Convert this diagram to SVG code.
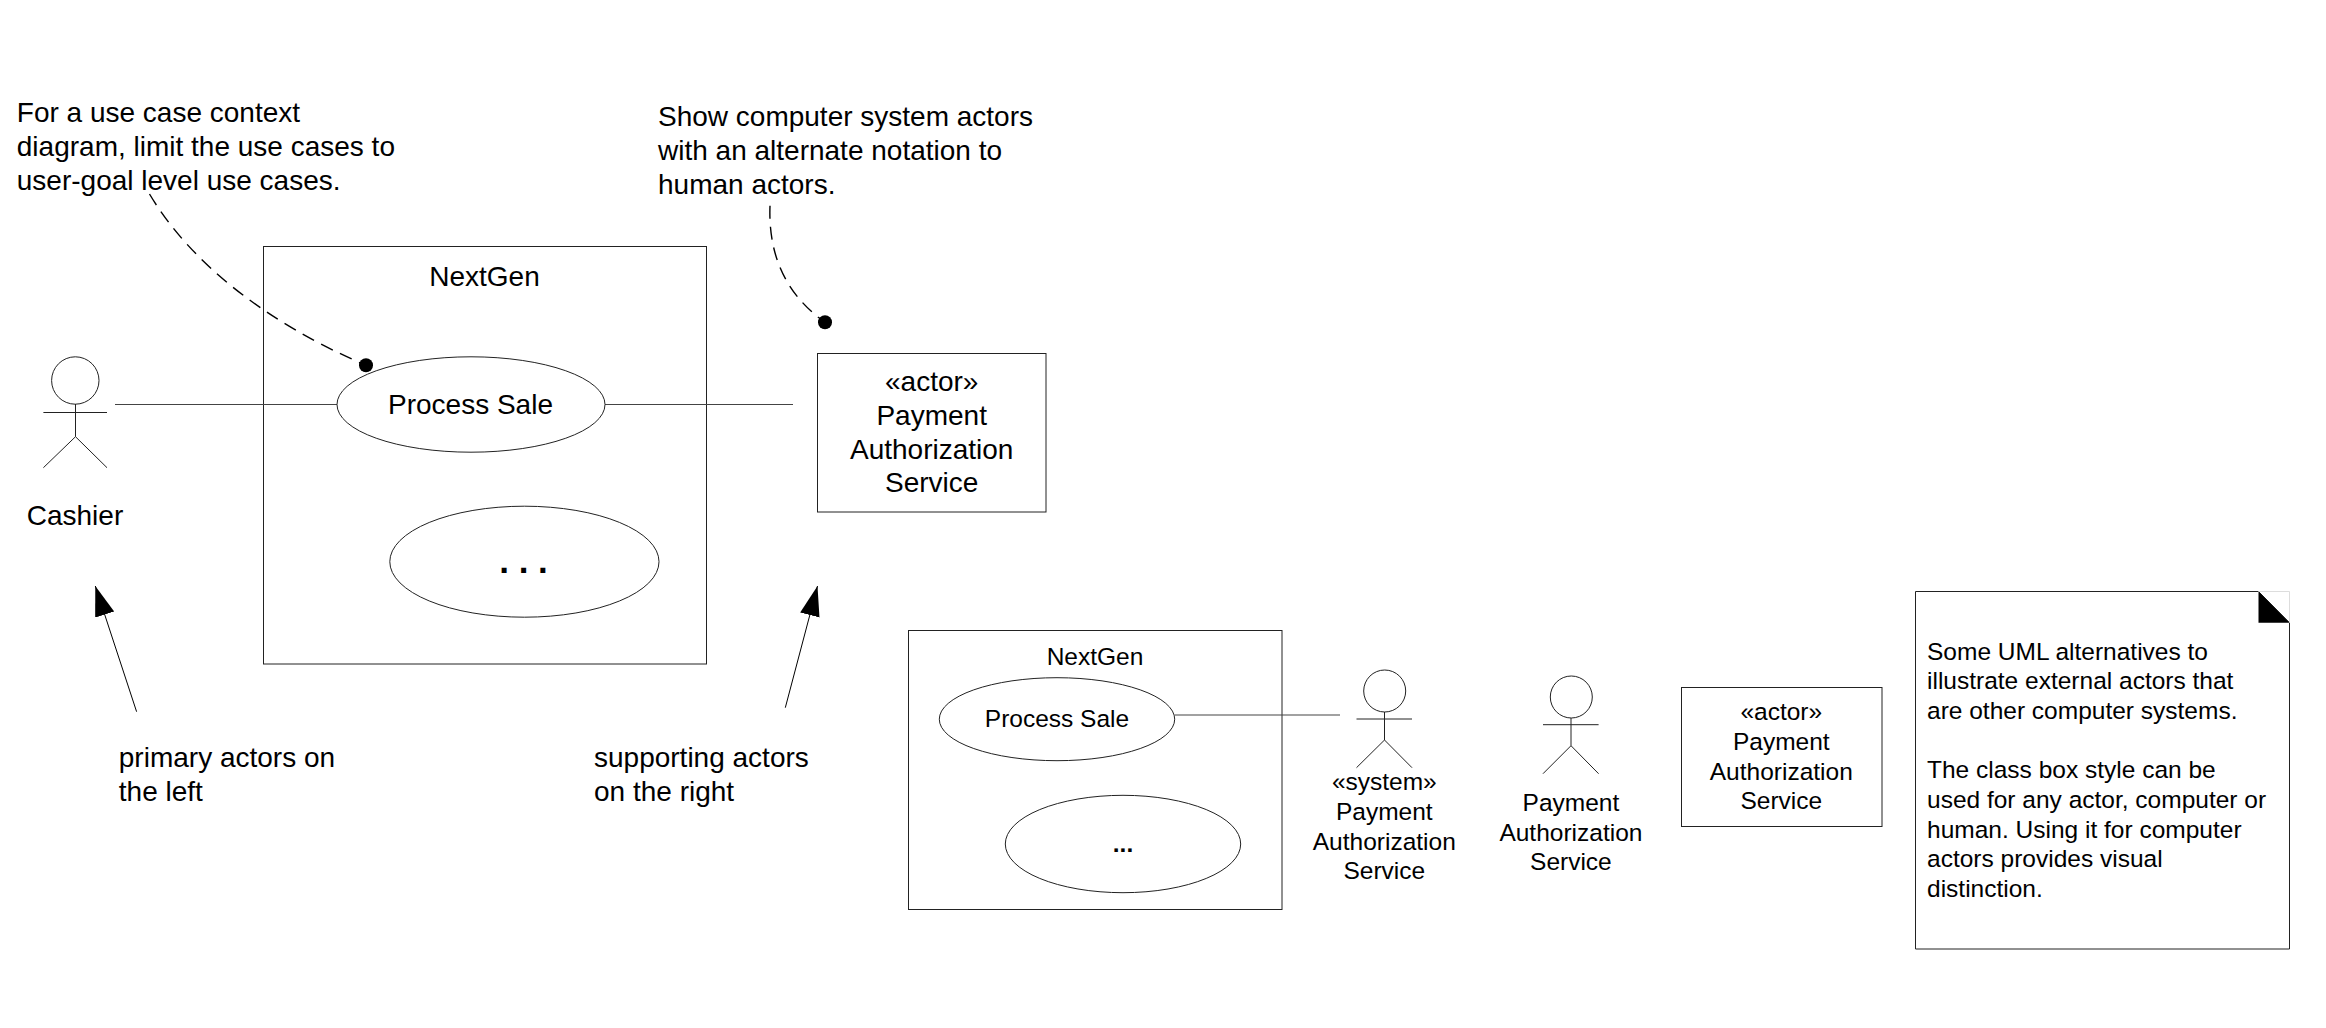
<svg xmlns="http://www.w3.org/2000/svg" width="2326" height="1028" viewBox="0 0 2326 1028">
<style>
text{font-family:"Liberation Sans",Arial,sans-serif;fill:#000;font-size:28px}
.s{font-size:24.5px}
.m{text-anchor:middle}
.b{font-weight:bold}
.o{fill:#fff;stroke:#222;stroke-width:1}
.n{fill:none;stroke:#222;stroke-width:1}
.c{fill:none;stroke:#444;stroke-width:1.2}
.d{fill:none;stroke:#000;stroke-width:1.4;stroke-dasharray:13 8}
.a{fill:none;stroke:#000;stroke-width:1}
</style>
<defs>
<marker id="arrow" markerUnits="userSpaceOnUse" markerWidth="32" markerHeight="22" refX="30" refY="10" orient="auto"><path d="M0 0L30 10L0 20Z" fill="#000"/></marker>
<marker id="dot" markerUnits="userSpaceOnUse" markerWidth="16" markerHeight="16" refX="8" refY="8"><circle cx="8" cy="8" r="7" fill="#000"/></marker>
</defs>
<rect width="2326" height="1028" fill="#fff"/>
<g id="system-main">
<rect class="o" x="263.5" y="246.5" width="443" height="417.5"/>
<text class="m" x="484.5" y="286">NextGen</text>
</g>
<g id="system-alt">
<rect class="o" x="908.5" y="630.5" width="373.5" height="279"/>
<text class="s m" x="1095" y="665">NextGen</text>
</g>
<g id="connectors">
<path class="c" d="M115 404.5H337"/>
<path class="c" d="M605 404.5H793"/>
<path class="c" d="M1174.7 715H1340"/>
<path class="d" marker-end="url(#dot)" d="M149.5 194C190 262 265 322 366 365.3"/>
<path class="d" marker-end="url(#dot)" d="M770 205.7C768 258 788 296 825 322.3"/>
<path class="a" marker-end="url(#arrow)" d="M136.6 711.7L95.3 586"/>
<path class="a" marker-end="url(#arrow)" d="M785.3 707.7L817.5 586"/>
</g>
<g id="actor-cashier">
<ellipse class="n" cx="75.3" cy="380.5" rx="23.7" ry="23.7"/>
<path class="n" d="M43.4 412.5H107M75.5 404V436.7L43.4 467.7M75.5 436.7L107 467.7"/>
<text class="m" x="75" y="525">Cashier</text>
</g>
<g id="usecase-process-sale">
<ellipse class="o" cx="471" cy="404.5" rx="134" ry="47.7"/>
<text class="m" x="470.5" y="414">Process Sale</text>
</g>
<g id="usecase-other">
<ellipse class="o" cx="524.4" cy="561.7" rx="134.6" ry="55.5"/>
<text class="m b" x="523.5" y="573" style="font-size:35px">. . .</text>
</g>
<g id="actor-box-main">
<rect class="o" x="817.5" y="353.5" width="228.5" height="158.5"/>
<text class="m" x="931.7" y="391">«actor»</text>
<text class="m" x="931.7" y="425">Payment</text>
<text class="m" x="931.7" y="459">Authorization</text>
<text class="m" x="931.7" y="492">Service</text>
</g>
<g id="note-context">
<text x="16.8" y="122">For a use case context</text>
<text x="16.8" y="156">diagram, limit the use cases to</text>
<text x="16.8" y="190">user-goal level use cases.</text>
</g>
<g id="note-computer">
<text x="658" y="126">Show computer system actors</text>
<text x="658" y="160">with an alternate notation to</text>
<text x="658" y="194">human actors.</text>
</g>
<g id="label-primary">
<text x="118.8" y="767">primary actors on</text>
<text x="118.8" y="801">the left</text>
</g>
<g id="label-supporting">
<text x="594" y="767">supporting actors</text>
<text x="594" y="801">on the right</text>
</g>
<g id="usecase-process-sale-alt">
<ellipse class="o" cx="1057" cy="719.2" rx="117.7" ry="41.5"/>
<text class="s m" x="1057" y="727">Process Sale</text>
</g>
<g id="usecase-other-alt">
<ellipse class="o" cx="1123" cy="844" rx="117.7" ry="48.7"/>
<text class="s m b" x="1123" y="852">...</text>
</g>
<g id="actor-system">
<ellipse class="n" cx="1384.7" cy="691" rx="21" ry="21"/>
<path class="n" d="M1356.5 719H1412M1384.5 712V740L1356.5 767.7M1384.5 740L1412 767.7"/>
<text class="s m" x="1384.3" y="790">«system»</text>
<text class="s m" x="1384.3" y="820">Payment</text>
<text class="s m" x="1384.3" y="850">Authorization</text>
<text class="s m" x="1384.3" y="879">Service</text>
</g>
<g id="actor-plain">
<ellipse class="n" cx="1571.3" cy="697" rx="21" ry="21"/>
<path class="n" d="M1543 724.7H1598.6M1571 718V745.7L1543 773.7M1571 745.7L1598.6 773.7"/>
<text class="s m" x="1570.9" y="811">Payment</text>
<text class="s m" x="1570.9" y="841">Authorization</text>
<text class="s m" x="1570.9" y="870">Service</text>
</g>
<g id="actor-box-alt">
<rect class="o" x="1681.5" y="687.5" width="200.5" height="139"/>
<text class="s m" x="1781.3" y="719.5">«actor»</text>
<text class="s m" x="1781.3" y="750">Payment</text>
<text class="s m" x="1781.3" y="780">Authorization</text>
<text class="s m" x="1781.3" y="809">Service</text>
</g>
<g id="note-alternatives">
<path class="o" d="M1915.5 591.5H2258.5L2289.5 622.7V949H1915.5Z"/>
<path d="M2258.5 591.5V622.7H2289.5Z" fill="#000"/>
<path d="M2258.5 591.5H2289.5V622.7" fill="none" stroke="#ddd" stroke-width="1"/>
<text class="s" x="1927" y="660">Some UML alternatives to</text>
<text class="s" x="1927" y="689">illustrate external actors that</text>
<text class="s" x="1927" y="719">are other computer systems.</text>
<text class="s" x="1927" y="778">The class box style can be</text>
<text class="s" x="1927" y="808">used for any actor, computer or</text>
<text class="s" x="1927" y="838">human. Using it for computer</text>
<text class="s" x="1927" y="867">actors provides visual</text>
<text class="s" x="1927" y="897">distinction.</text>
</g>
</svg>
